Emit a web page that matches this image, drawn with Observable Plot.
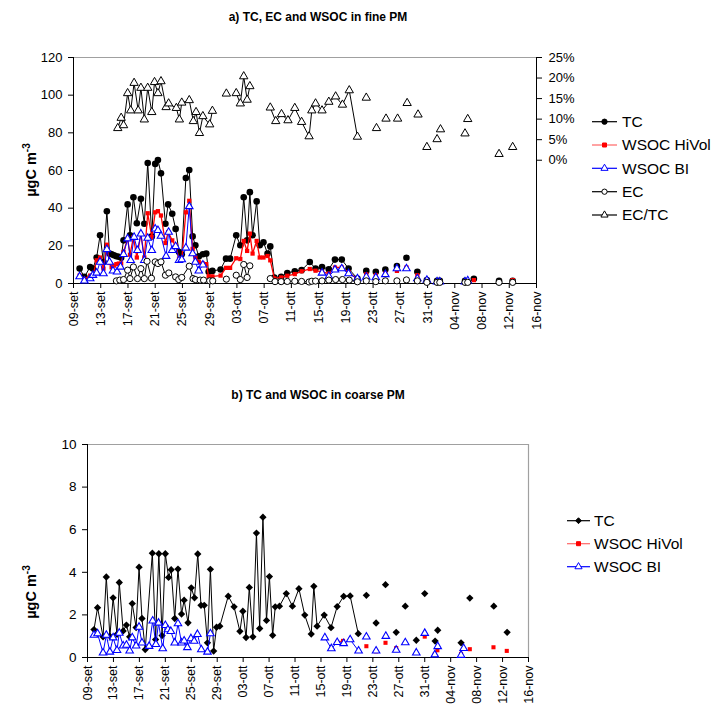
<!DOCTYPE html>
<html><head><meta charset="utf-8">
<script src="https://cdn.jsdelivr.net/npm/d3@7"></script>
<script src="https://cdn.jsdelivr.net/npm/@observablehq/plot@0.6"></script>
<style>
body{margin:0;background:#fff;font-family:Arial,"Liberation Sans",sans-serif;}
#wrap{position:relative;width:715px;height:704px;overflow:hidden;background:#fff}
#wrap svg{position:absolute;left:0;background:transparent}
</style></head><body><div id="wrap"></div>
<script>
// x axis: days since 09-set; ticks every 4 days
const tickDays = [0,4,8,12,16,20,24,28,32,36,40,44,48,52,56,60,64,68];
const tickLabels = ["09-set","13-set","17-set","21-set","25-set","29-set","03-ott","07-ott","11-ott","15-ott","19-ott","23-ott","27-ott","31-ott","04-nov","08-nov","12-nov","16-nov"];

// ---- a) fine PM (µgC m-3) ----
const tcFineDays = [0.9,1.6,2.45,2.85,3.4,3.9,4.4,4.9,5.3,5.6,5.95,6.3,6.65,7.0,7.35,7.95,8.3,8.8,9.3,9.9,10.4,10.9,11.5,12.0,12.4,12.85,13.5,13.9,14.5,15.0,15.5,15.9,16.5,17.0,17.5,17.9,18.4,19.0,19.5,19.85,20.4,21.6,22.4,23.0,23.9,24.5,25.0,25.5,25.9,26.3,26.9,27.35,27.9,28.5,28.9,29.5,30.5,31.4,32.5,33.5,34.7,35.55,36.5,37.5,38.4,39.4,40.4,41.7];
const tcFine = [7.9,3.5,8.8,7.9,13.8,25.6,11.4,38.4,15.9,15.5,15.0,14.5,14.2,13.7,22.9,42,25.6,45.8,32,45,31.7,64,25,63.5,65.6,58.5,31.7,42,37,29,16.7,15.5,56,60.3,25,20.3,14.4,15.5,15.9,6.2,6.7,7.4,13.2,13.2,25.6,20.3,45.8,22.9,48.5,25.6,43.6,20.3,21.9,15.9,19.7,3.2,3.5,5.6,6.5,7.1,11.4,7.9,8.8,7.6,12.7,12.7,7.9,2.6];
const tcFineLoneDays = [43.0,44.4,45.8,47.5,48.9,50.5,51.9,53.4,53.8,57.5,58.8,62.5,64.5];
const tcFineLone = [6.7,6.2,7.4,9.3,13.7,6.2,1.8,1.4,1.4,1.4,2.5,1.4,1.4];

const hvFineDays = tcFineDays;
const hvFine = [4.2,2.4,4.2,4.2,12.3,13.8,7.9,20.6,10.9,8.6,9.5,10.3,10.6,10.6,16.7,23.8,15.3,24.6,13.8,26.4,13.8,37.3,24.6,37.8,38.4,36.1,21.5,27.3,22.9,20.3,13.2,12.7,37.8,43.9,18.4,13.8,11.4,10.6,10.3,3.8,3.8,4.2,8.3,8.3,13.4,13.0,22.6,17.3,26.5,15.9,22.6,13.8,13.8,14.6,12.3,2.7,3.2,4.1,5.0,6.5,7.7,6.8,6.2,5.3,8.5,8.5,6.0,2.3];
const hvFineLoneDays = [43.0,44.4,45.8,47.5,48.9,50.5,51.9,53.4,58.8,64.5];
const hvFineLone = [4.9,4.4,5.3,6.7,8.5,4.4,1.4,0.9,1.8,1.8];

const biFineDays = [0.9,1.6,2.45,2.85,3.4,3.9,4.4,4.9,5.3,5.8,6.4,6.9,7.35,7.95,8.4,8.9,9.4,9.9,10.4,10.9,11.5,12.0,12.4,12.85,13.6,13.97,14.5,15.0,15.5,15.9,16.5,17.0,17.5,17.9,18.4,19.0,27.7,36.5,37.5,38.4,39.4,40.4,41.7];
const biFine = [3.7,1.4,2.6,4.4,5.6,11.4,5.3,18.1,11.4,6.7,6.2,8.8,15.5,23.8,12.3,24.6,17.6,26.4,12.3,24.1,17.6,29.0,28.2,25.2,14.5,27.3,17.6,19.7,12.3,12.7,18.9,40.9,15.9,11.4,6.7,9.9,null,5.6,3.8,7.3,7.9,5.3,2.6];
const biFineLoneDays = [43.0,44.4,45.8,47.5,48.9,50.5,51.9,53.4,53.8,57.5,57.9];
const biFineLone = [3.5,3.2,4.8,7.9,7.9,2.6,1.8,0.9,0.9,0.9,1.5];

const ecFineDays = [6.3,6.8,7.35,7.95,8.3,8.8,9.4,9.9,10.4,10.8,11.45,12.0,12.4,12.85,13.5,14.0,15.0,15.45,15.9,17.0,17.55,17.9,18.6,19.1,20.0,20.45,22.0,23.9,24.5,25.0,25.5,25.9,27.4,28.9,29.6,30.5,31.4,32.5,33.5,34.6,35.0,35.55,36.5,37.5,38.5,39.5,40.5,41.7];
const ecFine = [1.4,1.8,2.1,7.1,2.6,8.8,2.6,7.9,2.6,11.8,2.8,11.5,10.6,11.5,4.4,5.6,3.5,2.1,3.2,9.2,2.6,2.1,1.8,1.8,1.4,1.4,null,4.4,2.1,10.1,3.2,9.4,null,2.6,1.0,1.0,1.1,1.2,1.1,0.8,1.2,1.3,1.4,1.8,2.1,2.1,1.8,0.9];
const ecFineLoneDays = [22.45,43.0,44.4,45.8,47.5,48.9,50.5,51.9,53.4,53.8,57.5,57.9,62.5,64.5];
const ecFineLone = [2.3,1.4,1.0,1.4,1.4,1.9,1.4,0.6,0.6,0.6,0.6,0.6,0.6,0.6];

// EC/TC (%), right axis
const ratioDays = [6.5,7.0,7.35,7.95,8.4,8.9,9.5,9.9,10.4,10.9,11.5,11.9,12.4,12.85,13.6,13.97,15.1,15.55,15.9,17.0,17.6,18.0,18.5,19.0,20.0,20.4,22.0,23.9,24.5,25.0,25.5,25.9,27.4,28.9,29.7,30.55,31.5,32.5,33.5,34.6,35.0,35.55,36.5,37.5,38.5,39.5,40.5,41.7];
const ratio = [7.8,10.3,8.5,16.3,12.1,18.8,12.1,17.6,9.9,17.6,11.7,19.0,16.3,19.2,12.9,13.8,12.7,9.9,14.0,14.6,9.5,11.7,6.6,10.7,8.7,12.0,null,16.3,13.8,20.4,14.7,18.0,null,12.8,9.5,11.2,9.7,12.7,9.3,5.8,12.1,13.8,12.1,14.2,15.5,13.5,17.0,5.7];
const ratioLoneDays = [22.45,43.0,44.5,45.9,47.6,49.0,50.6,51.9,53.4,53.9,57.5,57.9,62.5,64.5];
const ratioLone = [16.2,15.2,7.8,10.1,10.1,13.9,11.1,3.2,5.1,7.5,6.5,10.0,1.5,3.2];

// ---- b) coarse PM ----
const tcCoarseDays = [1.0,1.55,2.4,2.9,3.45,3.95,4.55,4.9,5.5,6.0,6.5,6.9,7.5,7.95,8.4,8.9,10.0,10.5,11.0,11.5,12.0,12.5,12.9,13.45,13.95,14.5,14.9,15.5,16.0,16.5,17.0,17.5,18.0,18.5,18.95,19.45,19.9,20.4,21.7,22.6,23.5,23.95,24.45,24.95,25.5,26.05,26.55,27.05,27.6,28.05,28.55,28.95,29.6,30.65,31.6,32.6,33.5,34.5,34.9,35.4,36.5,37.55,38.5,39.5,40.5,41.75];
const tcCoarse = [1.31,2.34,0.97,3.78,1.0,2.8,1.09,3.52,1.25,1.52,0.97,2.53,1.41,4.24,1.83,0.37,4.9,0.84,4.87,1.03,4.87,3.76,4.12,1.83,4.15,2.04,2.69,1.63,3.27,2.8,4.86,2.45,2.45,0.69,4.14,0.3,1.42,1.47,2.88,2.38,1.23,2.17,0.94,3.29,0.97,5.84,1.36,6.59,1.74,3.8,1.04,2.38,2.41,3.0,2.41,3.23,1.99,1.1,3.34,1.47,1.99,1.4,2.39,2.87,2.89,1.12];
const tcCoarseLoneDays = [43.0,44.5,45.95,47.6,49.0,50.7,52.0,53.6,54.0,57.6,58.95,62.65,64.7];
const tcCoarseLone = [2.92,1.62,3.42,1.18,2.41,0.81,3.0,0.77,1.28,0.69,2.79,2.41,1.18];

const hvCoarseDays = [38.5,39.4];
const hvCoarse = [0.73,0.78];
const hvCoarseLoneDays = [43.0,44.5,45.95,47.6,52.0,53.55,53.95,57.6,58.95,62.6,64.65];
const hvCoarseLone = [0.53,0.29,0.69,0.44,0.98,0.14,0.34,0.17,0.39,0.48,0.31];

const biCoarseDays = [1.0,1.55,2.4,2.9,3.45,3.95,4.55,4.9,5.5,6.0,6.5,6.9,7.5,7.95,8.4,9.5,10.05,10.55,10.95,11.6,12.0,12.4,12.85,13.45,13.95,14.5,14.9,15.4,15.95,16.45,16.95,17.55,18.5,18.95,27.7,36.6,37.6,38.5,39.5,40.5,41.8];
const biCoarse = [1.05,1.12,0.22,1.05,0.26,0.93,0.34,1.15,0.55,0.58,0.31,0.93,0.55,1.43,0.69,0.53,1.72,0.62,1.62,0.42,1.51,1.31,1.23,0.69,1.59,0.69,0.78,0.47,0.89,0.77,1.09,0.37,0.26,1.12,null,0.93,0.42,0.71,0.66,0.84,0.31];
const biCoarseLoneDays = [43.0,44.5,46.0,47.6,49.0,50.7,52.0,53.55,54.0,57.6,58.0];
const biCoarseLone = [0.97,0.31,1.0,0.35,0.7,0.22,1.14,0.13,0.52,0.11,0.43];

const fineTicks = [0,20,40,60,80,100,120];
const coarseTicks = [0,2,4,6,8,10];
const ratioTicks = [0,5,10,15,20,25];

// ---------------------------------------------------------------
const pts = (days, vals) => days.map((d, i) => ({d, v: vals[i]}));
const FONT = "Arial, 'Liberation Sans', sans-serif";
const fmtX = d => tickLabels[tickDays.indexOf(d)];
const wrap = document.getElementById("wrap");
const BLUE = "#0000ff", RED = "#ff0000";

function xAxis() {
  return Plot.axisX({ticks: tickDays, tickFormat: fmtX, tickRotate: -90, tickSize: 5, tickPadding: 3, fontSize: 12.5, label: null});
}

// a) main
const A = Plot.plot({
  width: 715, height: 340,
  marginLeft: 73, marginRight: 179, marginTop: 57, marginBottom: 57,
  style: {fontFamily: FONT, background: "transparent", color: "black"},
  x: {domain: [0, 68]},
  y: {domain: [0, 120]},
  marks: [
    Plot.ruleY([120], {stroke: "#a0a0a0"}),
    Plot.axisY({ticks: fineTicks, tickSize: 5, tickPadding: 6, fontSize: 13, label: null}),
    xAxis(),
    Plot.ruleX([0], {stroke: "black"}),
    Plot.ruleY([0], {stroke: "black"}),
    Plot.line(pts(tcFineDays, tcFine), {x: "d", y: "v", stroke: "black", strokeWidth: 1}),
    Plot.dot(pts(tcFineDays, tcFine).concat(pts(tcFineLoneDays, tcFineLone)), {x: "d", y: "v", r: 3.3, fill: "black", stroke: "none"}),
    Plot.line(pts(hvFineDays, hvFine), {x: "d", y: "v", stroke: RED, strokeWidth: 1.3}),
    Plot.dot(pts(hvFineDays, hvFine).concat(pts(hvFineLoneDays, hvFineLone)), {x: "d", y: "v", symbol: "square", r: 2.4, fill: RED, stroke: "none"}),
    Plot.line(pts(biFineDays, biFine), {x: "d", y: "v", stroke: BLUE, strokeWidth: 1}),
    Plot.dot(pts(biFineDays, biFine).concat(pts(biFineLoneDays, biFineLone)), {x: "d", y: "v", symbol: "triangle", r: 2.8, fill: "white", stroke: BLUE, strokeWidth: 1.1}),
    Plot.line(pts(ecFineDays, ecFine), {x: "d", y: "v", stroke: "black", strokeWidth: 1}),
    Plot.dot(pts(ecFineDays, ecFine).concat(pts(ecFineLoneDays, ecFineLone)), {x: "d", y: "v", r: 3.1, fill: "white", stroke: "black", strokeWidth: 1})
  ]
});
A.style.top = "0px";
wrap.appendChild(A);

// a) secondary axis EC/TC
const A2 = Plot.plot({
  width: 715, height: 340,
  marginLeft: 73, marginRight: 179, marginTop: 57, marginBottom: 57,
  style: {fontFamily: FONT, background: "transparent", color: "black"},
  x: {domain: [0, 68], axis: null},
  y: {domain: [-30, 25], axis: null},
  marks: [
    Plot.ruleX([68], {stroke: "black"}),
    Plot.axisY({anchor: "right", ticks: ratioTicks, tickFormat: d => d + "%", tickSize: 5, tickPadding: 7, fontSize: 13, label: null}),
    Plot.line(pts(ratioDays, ratio), {x: "d", y: "v", stroke: "black", strokeWidth: 1}),
    Plot.dot(pts(ratioDays, ratio).concat(pts(ratioLoneDays, ratioLone)), {x: "d", y: "v", symbol: "triangle", r: 3.1, fill: "white", stroke: "black", strokeWidth: 1})
  ]
});
A2.style.top = "0px";
wrap.appendChild(A2);

// b) coarse
const B = Plot.plot({
  width: 715, height: 344,
  marginLeft: 87, marginRight: 187, marginTop: 84, marginBottom: 47,
  style: {fontFamily: FONT, background: "transparent", color: "black"},
  x: {domain: [0, 68]},
  y: {domain: [0, 10]},
  marks: [
    Plot.ruleY([10], {stroke: "#a0a0a0", strokeWidth: 1.2}),
    Plot.ruleX([68], {stroke: "#a0a0a0", strokeWidth: 1.2}),
    Plot.axisY({ticks: coarseTicks, tickSize: 5, tickPadding: 6, fontSize: 13.5, label: null}),
    xAxis(),
    Plot.ruleX([0], {stroke: "black"}),
    Plot.ruleY([0], {stroke: "black"}),
    Plot.line(pts(tcCoarseDays, tcCoarse), {x: "d", y: "v", stroke: "black", strokeWidth: 1}),
    Plot.dot(pts(tcCoarseDays, tcCoarse).concat(pts(tcCoarseLoneDays, tcCoarseLone)), {x: "d", y: "v", symbol: "diamond2", r: 3.3, fill: "black", stroke: "none"}),
    Plot.line(pts(hvCoarseDays, hvCoarse), {x: "d", y: "v", stroke: RED, strokeWidth: 1}),
    Plot.dot(pts(hvCoarseDays, hvCoarse).concat(pts(hvCoarseLoneDays, hvCoarseLone)), {x: "d", y: "v", symbol: "square", r: 2.3, fill: RED, stroke: "none"}),
    Plot.line(pts(biCoarseDays, biCoarse), {x: "d", y: "v", stroke: BLUE, strokeWidth: 1}),
    Plot.dot(pts(biCoarseDays, biCoarse).concat(pts(biCoarseLoneDays, biCoarseLone)), {x: "d", y: "v", symbol: "triangle", r: 2.8, fill: "white", stroke: BLUE, strokeWidth: 1.1})
  ]
});
B.style.top = "360px";
wrap.appendChild(B);

// titles, axis titles, legends
const svg = d3.create("svg").attr("width", 715).attr("height", 704)
  .style("top", "0px").style("font-family", FONT).style("pointer-events", "none");
svg.append("text").attr("x", 318).attr("y", 21).attr("text-anchor", "middle")
  .attr("font-weight", "bold").attr("font-size", 12).text("a) TC, EC and WSOC in fine PM");
svg.append("text").attr("x", 318).attr("y", 399).attr("text-anchor", "middle")
  .attr("font-weight", "bold").attr("font-size", 12).text("b) TC and WSOC in coarse PM");
function yTitle(cy) {
  const t = svg.append("text").attr("transform", `translate(36,${cy}) rotate(-90)`)
    .attr("text-anchor", "middle").attr("font-weight", "bold").attr("font-size", 14.5);
  t.append("tspan").text("µgC m");
  t.append("tspan").attr("dy", -6).attr("font-size", 10).text("-3");
}
yTitle(170);
yTitle(592);

const topLegend = [
  {label: "TC", color: "black", sym: d3.symbolCircle, fill: "black", size: 22},
  {label: "WSOC HiVol", color: RED, sym: d3.symbolSquare, fill: RED, size: 16, line: "#ff6666"},
  {label: "WSOC BI", color: BLUE, sym: d3.symbolTriangle, fill: "white", size: 22},
  {label: "EC", color: "black", sym: d3.symbolCircle, fill: "white", size: 22},
  {label: "EC/TC", color: "black", sym: d3.symbolTriangle, fill: "white", size: 22}
];
const topRows = [121.7, 145, 168.3, 191.7, 215];
const botLegend = [
  {label: "TC", color: "black", sym: d3.symbolDiamond2, fill: "black", size: 22},
  {label: "WSOC HiVol", color: RED, sym: d3.symbolSquare, fill: RED, size: 16, line: "#ff6666"},
  {label: "WSOC BI", color: BLUE, sym: d3.symbolTriangle, fill: "white", size: 22}
];
const botRows = [520.7, 543.7, 566.7];
function legend(items, rows, x0, x1, tx) {
  items.forEach((it, i) => {
    const y = rows[i];
    const g = svg.append("g");
    g.append("line").attr("x1", x0).attr("x2", x1).attr("y1", y).attr("y2", y)
      .attr("stroke", it.line || it.color).attr("stroke-width", 1.2);
    g.append("path").attr("d", d3.symbol(it.sym, it.size)()).attr("transform", `translate(${(x0 + x1) / 2},${y})`)
      .attr("fill", it.fill).attr("stroke", it.color).attr("stroke-width", 1);
    g.append("text").attr("x", tx).attr("y", y).attr("dy", "0.35em")
      .attr("font-size", 15.5).text(it.label);
  });
}
legend(topLegend, topRows, 592, 617, 622);
legend(botLegend, botRows, 567, 590, 594);
wrap.appendChild(svg.node());
</script></body></html>
